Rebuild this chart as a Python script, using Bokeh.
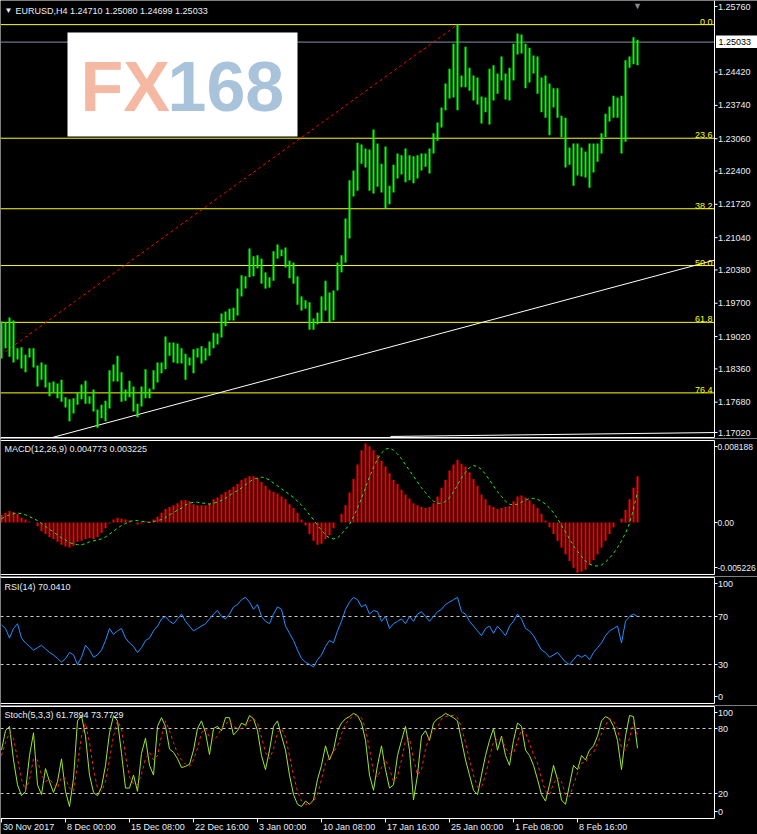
from bokeh.plotting import figure
from bokeh.layouts import column
from bokeh.models import Range1d, Label, BoxAnnotation
from bokeh.embed import file_html
from bokeh.resources import INLINE

# ---------------- data ----------------
header_text = "EURUSD,H4  1.24710 1.25080 1.24699 1.25033"
macd_title = "MACD(12,26,9) 0.004773 0.003225"
rsi_title = "RSI(14) 70.0410"
stoch_title = "Stoch(5,3,3) 61.7894 73.7729"

bar_high = [
    1.1933, 1.1931, 1.1941, 1.1935, 1.1878, 1.1880, 1.1865, 1.1878, 1.1878, 1.1843,
    1.1849, 1.1845, 1.1808, 1.1810, 1.1806, 1.1814, 1.1778, 1.1774, 1.1776, 1.1788,
    1.1804, 1.1812, 1.1780, 1.1794, 1.1753, 1.1763, 1.1771, 1.1833, 1.1845, 1.1863,
    1.1829, 1.1794, 1.1812, 1.1800, 1.1765, 1.1800, 1.1835, 1.1796, 1.1833, 1.1849,
    1.1849, 1.1902, 1.1890, 1.1890, 1.1888, 1.1878, 1.1867, 1.1859, 1.1876, 1.1878,
    1.1882, 1.1878, 1.1892, 1.1910, 1.1908, 1.1949, 1.1953, 1.1959, 1.1961, 1.2000,
    1.2027, 1.2025, 1.2082, 1.2066, 1.2068, 1.2061, 1.2033, 1.2023, 1.2076, 1.2090,
    1.2080, 1.2084, 1.2057, 1.2053, 1.2025, 1.1984, 1.1976, 1.1972, 1.1939, 1.1951,
    1.1984, 1.2016, 1.1992, 1.1996, 1.2053, 1.2068, 1.2143, 1.2221, 1.2241, 1.2298,
    1.2294, 1.2286, 1.2284, 1.2325, 1.2296, 1.2255, 1.2290, 1.2210, 1.2253, 1.2276,
    1.2272, 1.2286, 1.2272, 1.2270, 1.2272, 1.2276, 1.2276, 1.2286, 1.2317, 1.2339,
    1.2370, 1.2419, 1.2449, 1.2500, 1.2539, 1.2435, 1.2494, 1.2451, 1.2435, 1.2431,
    1.2392, 1.2390, 1.2449, 1.2456, 1.2439, 1.2474, 1.2439, 1.2451, 1.2500, 1.2521,
    1.2519, 1.2500, 1.2492, 1.2476, 1.2474, 1.2431, 1.2435, 1.2419, 1.2409, 1.2409,
    1.2353, 1.2349, 1.2288, 1.2296, 1.2296, 1.2288, 1.2280, 1.2296, 1.2296, 1.2296,
    1.2317, 1.2357, 1.2372, 1.2394, 1.2390, 1.2394, 1.2466, 1.2474, 1.2513, 1.2508,
]
bar_low = [
    1.1857, 1.1878, 1.1861, 1.1849, 1.1855, 1.1837, 1.1829, 1.1859, 1.1839, 1.1800,
    1.1814, 1.1798, 1.1780, 1.1788, 1.1776, 1.1769, 1.1757, 1.1729, 1.1745, 1.1763,
    1.1774, 1.1765, 1.1765, 1.1749, 1.1716, 1.1735, 1.1729, 1.1755, 1.1810, 1.1810,
    1.1769, 1.1771, 1.1778, 1.1749, 1.1737, 1.1759, 1.1776, 1.1776, 1.1794, 1.1808,
    1.1827, 1.1835, 1.1863, 1.1849, 1.1847, 1.1847, 1.1814, 1.1843, 1.1827, 1.1859,
    1.1847, 1.1853, 1.1863, 1.1878, 1.1886, 1.1900, 1.1923, 1.1935, 1.1935, 1.1945,
    1.1984, 1.2000, 1.2023, 1.2025, 1.2041, 1.2010, 1.2000, 1.2002, 1.2016, 1.2061,
    1.2066, 1.2043, 1.2021, 1.2010, 1.1967, 1.1955, 1.1959, 1.1916, 1.1916, 1.1927,
    1.1931, 1.1955, 1.1931, 1.1935, 1.1996, 1.2033, 1.2053, 1.2102, 1.2188, 1.2200,
    1.2255, 1.2247, 1.2200, 1.2194, 1.2208, 1.2196, 1.2164, 1.2172, 1.2196, 1.2225,
    1.2233, 1.2217, 1.2221, 1.2215, 1.2225, 1.2241, 1.2249, 1.2235, 1.2276, 1.2302,
    1.2329, 1.2364, 1.2388, 1.2390, 1.2364, 1.2411, 1.2411, 1.2404, 1.2384, 1.2376,
    1.2337, 1.2360, 1.2335, 1.2384, 1.2398, 1.2425, 1.2386, 1.2384, 1.2425, 1.2478,
    1.2480, 1.2409, 1.2421, 1.2439, 1.2398, 1.2360, 1.2349, 1.2313, 1.2370, 1.2349,
    1.2309, 1.2247, 1.2253, 1.2210, 1.2231, 1.2229, 1.2227, 1.2206, 1.2237, 1.2259,
    1.2276, 1.2309, 1.2341, 1.2349, 1.2349, 1.2276, 1.2300, 1.2451, 1.2458, 1.2456,
]
last_price = 1.25033
last_price_label = "1.25033"

fib_prices = [1.2539, 1.2307, 1.2163, 1.2047, 1.1931, 1.1787]
fib_names = ["0.0", "23.6", "38.2", "50.0", "61.8", "76.4"]
fib_line_x = [-52.5, 114]
fib_line_y = [1.1555, 1.2539]
trend1_x = [12.75, 178.25]
trend1_y = [1.1696, 1.2058]
trend2_x = [97.25, 178.25]
trend2_y = [1.1698, 1.1706]

price_ticks = [1.25760, 1.24420, 1.23740, 1.23060, 1.22400, 1.21720, 1.21040,
               1.20380, 1.19700, 1.19020, 1.18360, 1.17680, 1.17020]
price_tick_labels = ["1.25760", "1.24420", "1.23740", "1.23060", "1.22400", "1.21720",
                     "1.21040", "1.20380", "1.19700", "1.19020", "1.18360", "1.17680",
                     "1.17020"]

macd_hist = [
    0.0008, 0.0010, 0.0012, 0.0011, 0.0009, 0.0005, 0.0003, 0.0001, 0.0000, -0.0004,
    -0.0009, -0.0012, -0.0015, -0.0017, -0.0020, -0.0023, -0.0025, -0.0026, -0.0024, -0.0020,
    -0.0019, -0.0017, -0.0016, -0.0017, -0.0015, -0.0011, -0.0006, -0.0001, 0.0003, 0.0005,
    0.0004, 0.0003, 0.0002, 0.0000, -0.0002, -0.0001, 0.0001, 0.0001, 0.0003, 0.0006,
    0.0010, 0.0014, 0.0016, 0.0018, 0.0020, 0.0023, 0.0023, 0.0022, 0.0019, 0.0018,
    0.0018, 0.0018, 0.0020, 0.0024, 0.0026, 0.0029, 0.0032, 0.0034, 0.0037, 0.0040,
    0.0044, 0.0046, 0.0048, 0.0048, 0.0046, 0.0042, 0.0038, 0.0034, 0.0032, 0.0030,
    0.0027, 0.0024, 0.0019, 0.0015, 0.0010, 0.0003, -0.0003, -0.0012, -0.0019, -0.0023,
    -0.0022, -0.0017, -0.0013, -0.0006, 0.0000, 0.0009, 0.0018, 0.0031, 0.0045, 0.0060,
    0.0075, 0.00819, 0.0079, 0.0075, 0.0070, 0.0064, 0.0058, 0.0051, 0.0044, 0.0040,
    0.0034, 0.0029, 0.0025, 0.0020, 0.0018, 0.0016, 0.0015, 0.0016, 0.0020, 0.0027,
    0.0036, 0.0044, 0.0054, 0.0060, 0.0065, 0.0061, 0.0058, 0.0052, 0.0045, 0.0038,
    0.0029, 0.0024, 0.0018, 0.0016, 0.0014, 0.0015, 0.0016, 0.0017, 0.0022, 0.0027,
    0.0028, 0.0026, 0.0023, 0.0019, 0.0015, 0.0009, 0.0002, -0.0005, -0.0012, -0.0019,
    -0.0026, -0.0033, -0.0040, -0.0047, -0.0052, -0.0051, -0.0049, -0.0044, -0.0039, -0.0033,
    -0.0026, -0.0019, -0.0012, -0.0005, 0.0000, 0.0004, 0.0013, 0.0024, 0.0036, 0.0048,
]
macd_signal = [
    0.0004, 0.0006, 0.0008, 0.0009, 0.0010, 0.0009, 0.0008, 0.0006, 0.0004, 0.0002,
    -0.0001, -0.0004, -0.0007, -0.0010, -0.0013, -0.0016, -0.0018, -0.0021, -0.0022, -0.0023,
    -0.0023, -0.0022, -0.0020, -0.0019, -0.0018, -0.0017, -0.0015, -0.0012, -0.0009, -0.0006,
    -0.0003, -0.0001, 0.0001, 0.0002, 0.0002, 0.0001, 0.0001, 0.0000, 0.0001, 0.0002,
    0.0003, 0.0005, 0.0008, 0.0010, 0.0013, 0.0015, 0.0018, 0.0020, 0.0021, 0.0021,
    0.0020, 0.0020, 0.0019, 0.0020, 0.0021, 0.0023, 0.0025, 0.0028, 0.0031, 0.0033,
    0.0036, 0.0039, 0.0042, 0.0045, 0.0046, 0.0047, 0.0046, 0.0044, 0.0041, 0.0038,
    0.0035, 0.0032, 0.0029, 0.0026, 0.0022, 0.0018, 0.0013, 0.0008, 0.0003, -0.0003,
    -0.0008, -0.0013, -0.0016, -0.0017, -0.0016, -0.0012, -0.0007, -0.0002, 0.0006, 0.0015,
    0.0025, 0.0036, 0.0047, 0.0057, 0.0066, 0.0072, 0.0076, 0.0077, 0.0075, 0.0071,
    0.0066, 0.0060, 0.0054, 0.0048, 0.0042, 0.0036, 0.0031, 0.0026, 0.0022, 0.0020,
    0.0020, 0.0022, 0.0026, 0.0032, 0.0039, 0.0046, 0.0052, 0.0057, 0.0059, 0.0058,
    0.0055, 0.0050, 0.0044, 0.0038, 0.0032, 0.0027, 0.0022, 0.0019, 0.0018, 0.0019,
    0.0021, 0.0023, 0.0025, 0.0025, 0.0024, 0.0022, 0.0019, 0.0015, 0.0010, 0.0004,
    -0.0003, -0.0010, -0.0017, -0.0024, -0.0030, -0.0035, -0.0040, -0.0043, -0.0045, -0.0045,
    -0.0044, -0.0041, -0.0037, -0.0032, -0.0026, -0.0019, -0.0011, -0.0001, 0.0014, 0.0032,
]
macd_ticks = [0.008188, 0.0, -0.005226]
macd_tick_labels = ["0.008188", "0.00", "-0.005226"]

rsi_values = [
    63, 60, 52, 60, 64, 52, 48, 45, 42, 44,
    46, 43, 40, 38, 35, 32, 35, 40, 38, 30,
    36, 46, 42, 36, 38, 42, 50, 60, 55, 58,
    60, 52, 48, 45, 40, 44, 50, 52, 58, 62,
    68, 70, 66, 64, 68, 72, 66, 62, 58, 60,
    62, 64, 68, 72, 75, 70, 68, 72, 78, 80,
    84, 86, 82, 76, 80, 70, 66, 64, 72, 78,
    76, 62, 56, 50, 42, 35, 32, 30, 28, 34,
    38, 45, 50, 48, 58, 66, 76, 82, 86, 84,
    78, 80, 72, 75, 74, 66, 70, 60, 64, 66,
    68, 64, 70, 66, 72, 74, 70, 66, 70, 74,
    76, 80, 82, 84, 86, 74, 72, 66, 62, 58,
    54, 60, 62, 56, 62, 58, 54, 62, 66, 72,
    68, 60, 58, 54, 48, 42, 40, 36, 38, 40,
    36, 32, 30, 34, 38, 36, 38, 34, 40, 44,
    48, 54, 58, 60, 62, 48, 66, 70, 72, 70.04,
]
rsi_levels = [70, 30]
rsi_ticks = [100, 70, 30, 0]
rsi_tick_labels = ["100", "70", "30", "0"]

stoch_main = [
    60, 78, 82, 51, 28, 18, 22, 55, 76, 28,
    19, 43, 31, 21, 31, 52, 22, 8, 34, 87,
    92, 73, 37, 21, 18, 26, 46, 76, 92, 87,
    57, 25, 25, 37, 22, 57, 71, 46, 37, 82,
    90, 82, 61, 58, 52, 44, 45, 47, 60, 80,
    87, 76, 56, 80, 82, 78, 90, 90, 74, 78,
    85, 83, 92, 89, 78, 55, 42, 60, 82, 87,
    73, 60, 37, 19, 10, 8, 13, 10, 14, 33,
    46, 64, 51, 60, 78, 85, 89, 91, 94, 92,
    85, 69, 37, 23, 46, 64, 42, 25, 28, 55,
    69, 82, 60, 14, 37, 73, 78, 69, 85, 89,
    91, 94, 92, 90, 87, 69, 51, 37, 23, 19,
    37, 55, 69, 80, 60, 73, 55, 46, 69, 85,
    82, 60, 55, 46, 33, 19, 13, 28, 46, 33,
    14, 10, 28, 46, 42, 55, 51, 60, 64, 73,
    87, 91, 89, 82, 69, 42, 73, 92, 91, 61.79,
]
stoch_signal = [
    55, 67, 76, 71, 52, 33, 23, 33, 52, 51,
    37, 31, 33, 29, 25, 35, 34, 25, 22, 46,
    73, 85, 67, 42, 25, 22, 31, 51, 73, 87,
    80, 55, 35, 29, 28, 38, 52, 58, 51, 55,
    73, 87, 78, 67, 57, 51, 47, 45, 51, 62,
    76, 80, 72, 69, 73, 80, 84, 87, 82, 80,
    80, 82, 87, 89, 85, 72, 58, 52, 61, 76,
    80, 72, 55, 37, 22, 13, 10, 10, 13, 19,
    33, 48, 53, 58, 64, 75, 84, 89, 91, 92,
    90, 80, 61, 40, 35, 44, 51, 43, 31, 36,
    51, 69, 71, 52, 37, 42, 61, 73, 78, 81,
    89, 91, 92, 92, 90, 81, 67, 51, 37, 26,
    26, 37, 53, 68, 70, 71, 62, 57, 57, 68,
    79, 76, 66, 56, 48, 34, 22, 19, 29, 35,
    31, 19, 17, 28, 39, 48, 49, 55, 58, 66,
    75, 83, 89, 87, 80, 62, 60, 71, 86, 73.77,
]
stoch_levels = [80, 20]
stoch_ticks = [100, 80, 20, 0]
stoch_tick_labels = ["100", "80", "20", "0"]

time_tick_idx = [0, 16, 32, 48, 64, 80, 96, 112, 128, 144]
time_tick_labels = ["30 Nov 2017", "8 Dec 00:00", "15 Dec 08:00", "22 Dec 16:00",
                    "3 Jan 00:00", "10 Jan 08:00", "17 Jan 16:00", "25 Jan 00:00",
                    "1 Feb 08:00", "8 Feb 16:00"]

# ---------------- layout / style ----------------
FONT = "Liberation Sans"
FS = "9px"
W = 757
X0 = -0.25
X1 = X0 + W / 4.0
AX = 714          # pixel column of the right price-axis line
TXT = "#e8eef4"


def kx(px):
    return X0 + px / 4.0


def make_panel(ref_top, ref_bot, px_a, val_a, px_b, val_b):
    s = (val_b - val_a) / (px_b - px_a)

    def f(px):
        return val_a + (px - px_a) * s

    def finv(v):
        return px_a + (v - val_a) / s

    p = figure(width=W, height=ref_bot - ref_top, x_range=Range1d(X0, X1),
               y_range=Range1d(f(ref_bot), f(ref_top)),
               output_backend="svg", toolbar_location=None, min_border=0,
               background_fill_color="black", border_fill_color="black",
               outline_line_color=None, x_axis_location=None, y_axis_location=None)
    p.grid.visible = False
    return p, f, finv


def lab(p, x, y, text, color=TXT, size=FS, align="left", baseline="middle", **kw):
    p.add_layout(Label(x=x, y=y, text=text, text_color=color, text_font=FONT,
                       text_font_size=size, text_align=align, text_baseline=baseline, **kw))


def panel_box(p, f, top_px, bot_px, top_line=True):
    xa = kx(AX)
    if top_line:
        xs, ys = [X0, xa, xa, X0], [f(top_px), f(top_px), f(bot_px), f(bot_px)]
    else:
        xs, ys = [xa, xa, X0], [f(top_px), f(bot_px), f(bot_px)]
    p.line(xs, ys, line_color="white", line_width=1)


def right_axis(p, f, finv, top_px, bot_px, ticks, texts, clamp_top=6, clamp_bot=7,
               size=FS, gap=3.5):
    ys = []
    for v in ticks:
        px = min(max(finv(v), top_px + clamp_top), bot_px - clamp_bot)
        ys.append(f(px))
    n = len(ys)
    p.segment(x0=[kx(AX)] * n, y0=ys, x1=[kx(AX + 3)] * n, y1=ys,
              line_color="white", line_width=1)
    for y, t in zip(ys, texts):
        lab(p, kx(AX + gap), y, t, size=size)


def hlines(p, levels, color, dash=None):
    n = len(levels)
    kw = dict(line_color=color, line_width=1)
    if dash:
        kw["line_dash"] = dash
    p.segment(x0=[X0] * n, y0=levels, x1=[kx(AX)] * n, y1=levels, **kw)


# ---------------- main price panel ----------------
p1, f1, i1 = make_panel(0, 438, 6, 1.2576, 434, 1.1702)

hlines(p1, fib_prices, "#ffff00")
hlines(p1, [last_price], "#8494a8")
p1.line(fib_line_x, fib_line_y, line_color="#ff0000", line_width=1, line_dash="3 3")
p1.line(trend1_x, trend1_y, line_color="white", line_width=1)
p1.line(trend2_x, trend2_y, line_color="white", line_width=1)

idx = list(range(len(bar_high)))
p1.segment(x0=idx, y0=bar_low, x1=idx, y1=bar_high, line_color="#00ff00", line_width=2)

panel_box(p1, f1, 0, 437, top_line=False)
right_axis(p1, f1, i1, 0, 437, price_ticks, price_tick_labels, clamp_top=5, clamp_bot=5)

for lv, nm in zip(fib_prices, fib_names):
    lab(p1, kx(712), lv, nm, color="#ffff00", align="right", baseline="bottom")

# logo
p1.add_layout(BoxAnnotation(left=kx(67), right=kx(297), top=f1(32), bottom=f1(136),
                            fill_color="white", fill_alpha=1.0, line_color=None))
p1.add_layout(Label(x=kx(80), y=f1(86), text="FX", text_color="#f5b8a2",
                    text_font=FONT, text_font_size="70px", text_font_style="bold",
                    text_baseline="middle"))
p1.add_layout(Label(x=kx(167), y=f1(86), text="168", text_color="#a9c3da",
                    text_font=FONT, text_font_size="70px", text_font_style="bold",
                    text_baseline="middle"))

lab(p1, kx(4), f1(10), "\u25bc", size="8px")
lab(p1, kx(15), f1(10), header_text)
lab(p1, kx(637), f1(5), "\u25bc", color="#8a8a8a", size="9px", align="center")

p1.add_layout(BoxAnnotation(left=kx(715.5), right=X1, top=f1(35), bottom=f1(47.5),
                            fill_color="white", fill_alpha=1.0, line_color=None))
lab(p1, kx(718), last_price, last_price_label, color="black")

# ---------------- MACD panel ----------------
p2, f2, i2 = make_panel(438, 576, 522, 0.0, 443, 0.008188)
p2.vbar(x=list(range(len(macd_hist))), top=macd_hist, bottom=0, width=0.5,
        fill_color="#ff0000", line_color=None)
p2.line(list(range(len(macd_signal))), macd_signal, line_color="#22ee22", line_width=1,
        line_dash="3 3")
panel_box(p2, f2, 440, 574)
right_axis(p2, f2, i2, 440, 574, macd_ticks, macd_tick_labels, size="8.5px", gap=3)
lab(p2, kx(4), f2(448), macd_title)

# ---------------- RSI panel ----------------
p3, f3, i3 = make_panel(576, 705, 580, 100.0, 700, 0.0)
hlines(p3, rsi_levels, "#c8c8c8", dash="3 3")
p3.line(list(range(len(rsi_values))), rsi_values, line_color="#1e90ff", line_width=1)
panel_box(p3, f3, 577, 703)
right_axis(p3, f3, i3, 577, 703, rsi_ticks, rsi_tick_labels)
lab(p3, kx(4), f3(586), rsi_title)

# ---------------- Stochastic panel ----------------
p4, f4, i4 = make_panel(705, 834, 728, 80.0, 793, 20.0)
hlines(p4, stoch_levels, "#c8c8c8", dash="3 3")
p4.line(list(range(len(stoch_main))), stoch_main, line_color="#9ee62a", line_width=1)
p4.line(list(range(len(stoch_signal))), stoch_signal, line_color="#ff2020", line_width=1,
        line_dash="3 3")
panel_box(p4, f4, 706, 818)
right_axis(p4, f4, i4, 706, 818, stoch_ticks, stoch_tick_labels)
lab(p4, kx(4), f4(714), stoch_title)

n = len(time_tick_idx)
p4.segment(x0=time_tick_idx, y0=[f4(818)] * n, x1=time_tick_idx, y1=[f4(822)] * n,
           line_color="white", line_width=1)
for t, s in zip(time_tick_idx, time_tick_labels):
    lab(p4, t + 0.4, f4(826), s)

layout = column(p1, p2, p3, p4, spacing=0)
open("out.html", "w").write(file_html(layout, INLINE))
